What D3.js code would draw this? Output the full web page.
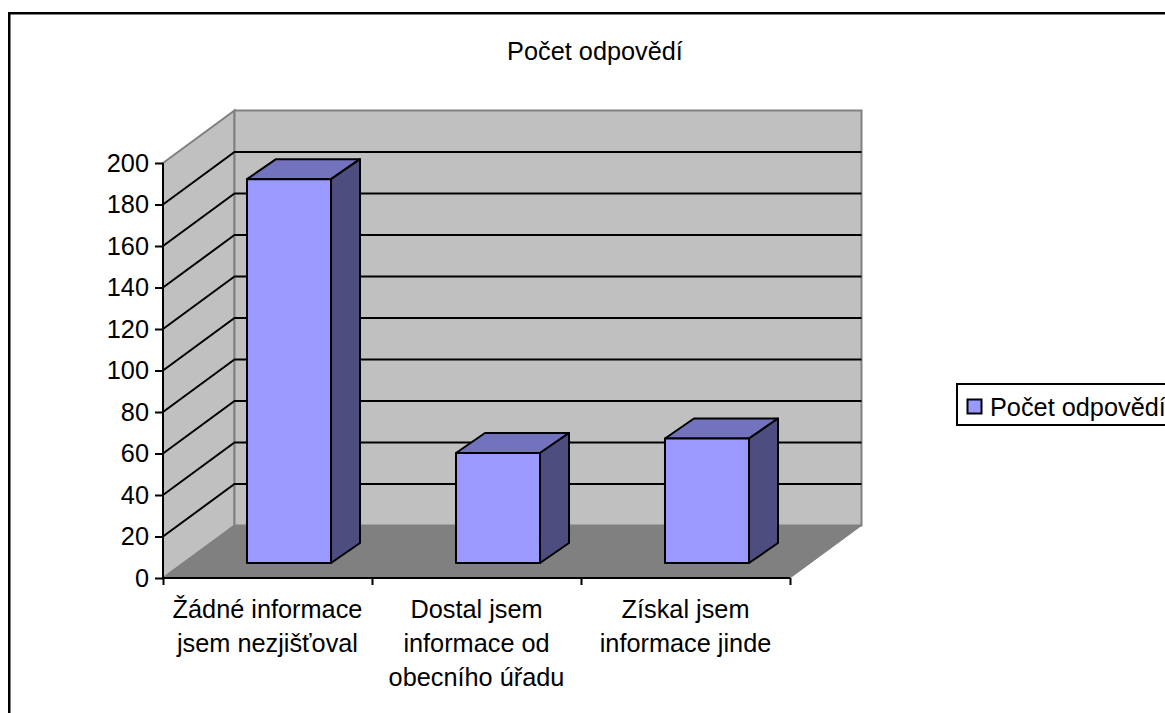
<!DOCTYPE html>
<html><head><meta charset="utf-8">
<script src="https://cdn.jsdelivr.net/npm/d3@7"></script>
<style>html,body{margin:0;padding:0;background:#fff;overflow:hidden}svg{display:block}text{font-family:"Liberation Sans",Arial,sans-serif;font-size:25.3px;fill:#000}</style>
</head><body><svg id="c" width="1165" height="713"></svg>
<script>
const categories=[["Žádné informace","jsem nezjišťoval"],["Dostal jsem","informace od","obecního úřadu"],["Získal jsem","informace jinde"]];
const values=[185,53,60];
const seriesName="Počet odpovědí";
const yTicks=[0,20,40,60,80,100,120,140,160,180,200];

const svg=d3.select("#c");
const x0=163,x1=790,yB=578,yT=163,dx=71.5,dy=52.5,bdx=29,bdy=20;
const y=d3.scaleLinear().domain([0,200]).range([yB,yT]);
const idx=categories.map((d,i)=>i);
const xBand=d3.scaleBand().domain(idx).range([x0,x1]).paddingInner(0.598).paddingOuter(0.299);
const xEdge=d3.scaleLinear().domain([0,3]).range([x0,x1]);
const poly=p=>p.map(a=>a.join(",")).join(" ");

svg.append("rect").attr("x",9.25).attr("y",13.25).attr("width",1200).attr("height",760).attr("fill","#fff").attr("stroke","#000").attr("stroke-width",2.5);

// walls and floor
svg.append("polygon").attr("points",poly([[x0,yT],[x0+dx,yT-dy],[x0+dx,yB-dy],[x0,yB]])).attr("fill","#c0c0c0").attr("stroke","#808080").attr("stroke-width",2);
svg.append("polygon").attr("points",poly([[x0+dx,yT-dy],[x1+dx,yT-dy],[x1+dx,yB-dy],[x0+dx,yB-dy]])).attr("fill","#c0c0c0").attr("stroke","#808080").attr("stroke-width",2);
svg.append("polygon").attr("points",poly([[x0,yB],[x0+dx,yB-dy],[x1+dx,yB-dy],[x1,yB]])).attr("fill","#808080").attr("stroke","#808080").attr("stroke-width",1);

// gridlines
svg.append("g").selectAll("polyline").data(yTicks.filter(d=>d>0&&d<200)).join("polyline")
 .attr("points",d=>poly([[x0,y(d)],[x0+dx,y(d)-dy],[x1+dx,y(d)-dy]]))
 .attr("fill","none").attr("stroke","#000").attr("stroke-width",2);

// bars
const baseY=563;
const bars=svg.append("g").selectAll("g").data(values).join("g");
const bx=(d,i)=>xBand(i)+21.5, bw=xBand.bandwidth();
const barTop=d=>baseY-(yB-y(d));
bars.append("polygon").attr("points",(d,i)=>poly([[bx(d,i),barTop(d)],[bx(d,i)+bdx,barTop(d)-bdy],[bx(d,i)+bw+bdx,barTop(d)-bdy],[bx(d,i)+bw,barTop(d)]])).attr("fill","#7373bd");
bars.append("polygon").attr("points",(d,i)=>poly([[bx(d,i)+bw,barTop(d)],[bx(d,i)+bw+bdx,barTop(d)-bdy],[bx(d,i)+bw+bdx,baseY-bdy],[bx(d,i)+bw,baseY]])).attr("fill","#4d4d7f");
bars.append("rect").attr("x",bx).attr("y",d=>barTop(d)).attr("width",bw).attr("height",d=>baseY-barTop(d)).attr("fill","#9999ff");
bars.selectAll("polygon,rect").attr("stroke","#000").attr("stroke-width",2).attr("stroke-linejoin","round");

// axes
const ya=svg.append("g").attr("transform",`translate(${x0},0)`).call(d3.axisLeft(y).tickValues(yTicks).tickSize(8).tickPadding(6));
ya.selectAll("path,line").attr("stroke","#000").attr("stroke-width",2);
ya.select("path").attr("d",`M0,${yT}V${yB}`);
ya.selectAll("text").style("font-size","25.3px").attr("font-family",null);
const xa=svg.append("g").attr("transform",`translate(0,${yB})`).call(d3.axisBottom(xEdge).tickValues([0,1,2,3]).tickSize(7).tickFormat(""));
xa.selectAll("path,line").attr("stroke","#000").attr("stroke-width",2);
xa.select("path").attr("d",`M${x0},0H${x1}`);

// category labels
const cat=svg.append("g").selectAll("text").data(categories).join("text").attr("text-anchor","middle");
cat.selectAll("tspan").data((d,i)=>d.map(t=>({t,i}))).join("tspan")
 .attr("x",d=>xBand(d.i)+xBand.bandwidth()/2).attr("y",(d,j)=>618+j*34).text(d=>d.t);

// title
svg.append("text").attr("x",595).attr("y",60).attr("text-anchor","middle").text(seriesName);

// legend
svg.append("rect").attr("x",957).attr("y",384).attr("width",300).attr("height",41).attr("fill","#fff").attr("stroke","#000").attr("stroke-width",2);
svg.append("rect").attr("x",967.5).attr("y",399.5).attr("width",14).attr("height",14).attr("fill","#9999ff").attr("stroke","#000").attr("stroke-width",2);
svg.append("text").attr("x",990).attr("y",416).text(seriesName);
</script></body></html>
